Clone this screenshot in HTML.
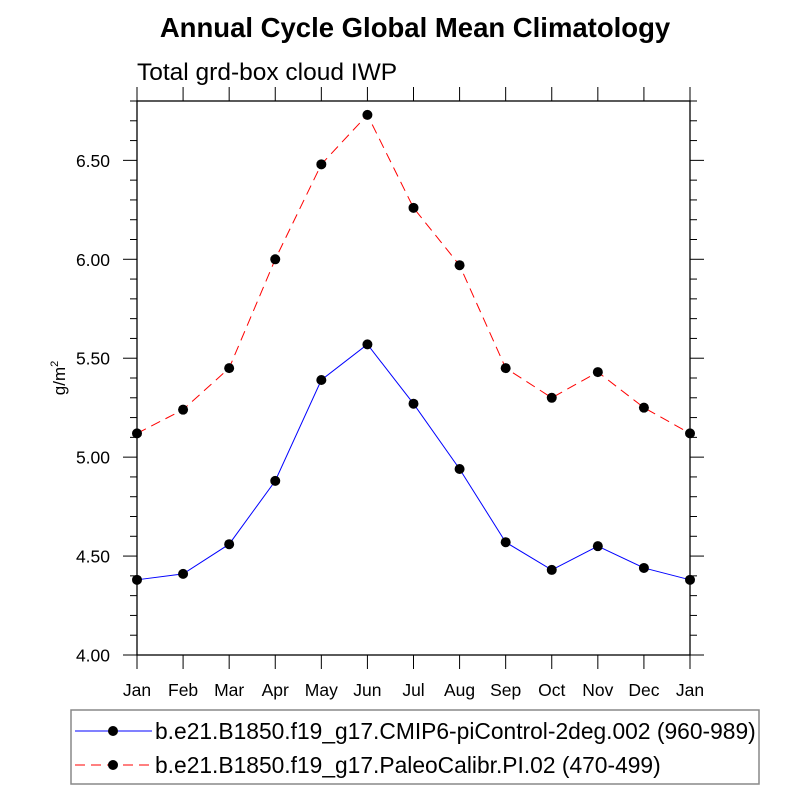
<!DOCTYPE html>
<html><head><meta charset="utf-8"><style>
body{margin:0;background:#fff;}
svg text{font-family:"Liberation Sans",sans-serif;}
</style></head><body>
<svg id="c" width="800" height="800" xmlns="http://www.w3.org/2000/svg">
<text x="415" y="37" text-anchor="middle" font-size="27.5" font-weight="bold">Annual Cycle Global Mean Climatology</text>
<text x="137" y="80" font-size="24.5">Total grd-box cloud IWP</text>
<text transform="translate(65,378) rotate(-90)" text-anchor="middle" font-size="17">g/m<tspan dy="-7" font-size="11">2</tspan></text>
<g id="axes"></g><g id="series"></g>
<rect x="71" y="710" width="688" height="74" fill="none" stroke="#888" stroke-width="1.5"/>
<g>
<line x1="75" y1="731" x2="152" y2="731" stroke="#00f" stroke-width="1"/><circle cx="113" cy="731" r="5" fill="#000"/>
<text x="155" y="739" font-size="22.8">b.e21.B1850.f19_g17.CMIP6-piControl-2deg.002 (960-989)</text></g>
<g>
<line x1="75" y1="765" x2="152" y2="765" stroke="#f00" stroke-width="1" stroke-dasharray="10,6"/><circle cx="113" cy="765" r="5" fill="#000"/>
<text x="155" y="773" font-size="22.8">b.e21.B1850.f19_g17.PaleoCalibr.PI.02 (470-499)</text></g>
</svg>
<script>
const months=["Jan","Feb","Mar","Apr","May","Jun","Jul","Aug","Sep","Oct","Nov","Dec","Jan"];
const cmip6=[4.38,4.41,4.56,4.88,5.39,5.57,5.27,4.94,4.57,4.43,4.55,4.44,4.38];
const paleo=[5.12,5.24,5.45,6.00,6.48,6.73,6.26,5.97,5.45,5.30,5.43,5.25,5.12];
const yTicks=[4.00,4.50,5.00,5.50,6.00,6.50];
const yMin=4.0,yMax=6.8;
const L=137,R=690,T=101,B=655;
const NS="http://www.w3.org/2000/svg";
const xs=i=>L+(R-L)*i/(months.length-1);
const ys=v=>B-(v-yMin)/(yMax-yMin)*(B-T);
const ax=document.getElementById('axes'),se=document.getElementById('series');
function mk(t,a,p){const e=document.createElementNS(NS,t);for(const k in a)e.setAttribute(k,a[k]);p.appendChild(e);return e;}
const fr=mk('rect',{x:L,y:T,width:R-L,height:B-T,fill:'none',stroke:'#000','stroke-width':1.3},ax);


months.forEach((m,i)=>{const x=xs(i);
mk('line',{x1:x,y1:B,x2:x,y2:B+14,stroke:'#000'},ax);
mk('line',{x1:x,y1:T,x2:x,y2:T-14,stroke:'#000'},ax);
const t=mk('text',{x:x,y:B+41,'text-anchor':'middle','font-size':17.5},ax);t.textContent=m;

});
for(let v=yMin;v<=yMax+1e-9;v+=0.1){const y=ys(v);const maj=Math.abs(v*2-Math.round(v*2))<1e-6;const l=maj?14:7;
mk('line',{x1:L,y1:y,x2:L-l,y2:y,stroke:'#000'},ax);mk('line',{x1:R,y1:y,x2:R+l,y2:y,stroke:'#000'},ax);}
yTicks.forEach(v=>{const t=mk('text',{x:110,y:ys(v)+6.5,'text-anchor':'end','font-size':17.5},ax);t.textContent=v.toFixed(2);

});
function draw(d,col,dash,name){const pl=mk('polyline',{points:d.map((v,i)=>xs(i)+','+ys(v)).join(' '),fill:'none',stroke:col,'stroke-width':1,'stroke-dasharray':dash},se);


d.forEach((v,i)=>{const c=mk('circle',{cx:xs(i),cy:ys(v),r:5,fill:'#000'},se);

});}
draw(cmip6,'#00f','none','cmip6');
draw(paleo,'#f00','10,6','paleocalibr');
</script>
</body></html>
